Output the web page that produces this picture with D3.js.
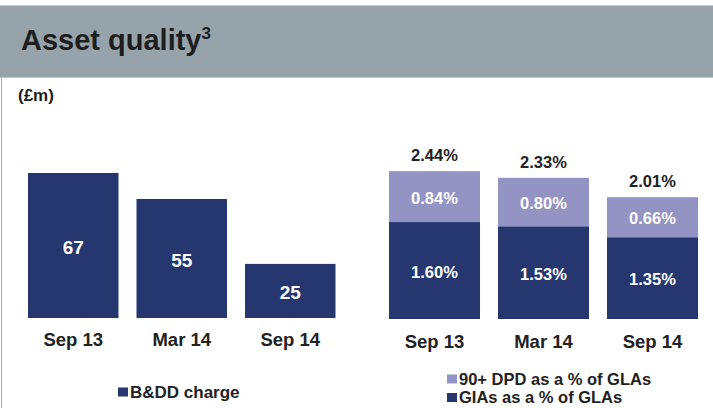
<!DOCTYPE html>
<html>
<head>
<meta charset="utf-8">
<script src="https://cdn.jsdelivr.net/npm/d3@7"></script>
<style>
  body { margin: 0; background: #fff; }
  svg { display: block; font-family: "Liberation Sans", Arial, sans-serif; }
</style>
</head>
<body>
<div id="chart"></div>
<script>
// data
var periods = ["Sep 13", "Mar 14", "Sep 14"];
var bddCharge = [67, 55, 25];
var giaPct = [1.60, 1.53, 1.35];
var dpdPct = [0.84, 0.80, 0.66];
var totalPct = [2.44, 2.33, 2.01];

var W = 713, H = 408;
var navy = "#26376f", lilac = "#9393c4";

var svg = d3.select("#chart").append("svg")
    .attr("width", W)
    .attr("height", H);

// header band
svg.append("rect")
    .attr("x", 0).attr("y", 5)
    .attr("width", W).attr("height", 72)
    .attr("fill", "#97a3aa");
svg.append("line")
    .attr("x1", 0).attr("x2", W).attr("y1", 5.5).attr("y2", 5.5)
    .attr("stroke", "#c8cdd0");
svg.append("line")
    .attr("x1", 0).attr("x2", W).attr("y1", 77.5).attr("y2", 77.5)
    .attr("stroke", "#c8cdd0");
svg.append("line")
    .attr("x1", 1.5).attr("x2", 1.5).attr("y1", 77).attr("y2", H)
    .attr("stroke", "#a8a8a8");

var title = svg.append("text")
    .attr("x", 21).attr("y", 50)
    .attr("font-size", 29)
    .attr("font-weight", "bold")
    .attr("fill", "#1e1e1e");
title.append("tspan").text("Asset quality");
title.append("tspan").attr("font-size", 17).attr("dy", -11).text("3");

svg.append("text")
    .attr("x", 18).attr("y", 101)
    .attr("font-size", 17)
    .attr("font-weight", "bold")
    .attr("fill", "#1e1e1e")
    .text("(£m)");

// left chart: B&DD charge
var xL = d3.scaleBand().domain(periods).range([10, 353.5]).padding(0.166);
var yL = d3.scaleLinear().domain([0, 70]).range([318, 318 - 70 * 2.164]);

var gL = svg.append("g");
gL.selectAll("rect")
    .data(bddCharge)
    .enter()
    .append("rect")
    .attr("x", function(d, i) { return xL(periods[i]); })
    .attr("y", function(d) { return yL(d); })
    .attr("width", xL.bandwidth())
    .attr("height", function(d) { return yL(0) - yL(d); })
    .attr("fill", navy);

gL.selectAll(".val")
    .data(bddCharge)
    .enter()
    .append("text")
    .attr("x", function(d, i) { return xL(periods[i]) + xL.bandwidth() / 2; })
    .attr("y", function(d) { return (yL(d) + yL(0)) / 2 + 1.5; })
    .attr("dy", ".35em")
    .attr("text-anchor", "middle")
    .attr("font-size", 19)
    .attr("font-weight", "bold")
    .attr("fill", "#fff")
    .text(function(d) { return d; });

gL.selectAll(".cat")
    .data(periods)
    .enter()
    .append("text")
    .attr("x", function(d) { return xL(d) + xL.bandwidth() / 2; })
    .attr("y", 340)
    .attr("dy", ".35em")
    .attr("text-anchor", "middle")
    .attr("font-size", 18.5)
    .attr("font-weight", "bold")
    .attr("fill", "#222")
    .text(function(d) { return d; });

// right chart: stacked percentages
var xR = d3.scaleBand().domain(periods).range([371, 716]).padding(0.165);
var yR = d3.scaleLinear().domain([0, 2.5]).range([319, 319 - 2.5 * 60.6]);

var rows = periods.map(function(p, i) {
    return { period: p, gia: giaPct[i], dpd: dpdPct[i] };
});
var stack = d3.stack().keys(["gia", "dpd"])(rows);
var fills = { gia: navy, dpd: lilac };

var gR = svg.append("g");
stack.forEach(function(layer) {
    gR.selectAll(".seg-" + layer.key)
        .data(layer)
        .enter()
        .append("rect")
        .attr("x", function(d) { return xR(d.data.period); })
        .attr("y", function(d) { return yR(d[1]); })
        .attr("width", xR.bandwidth())
        .attr("height", function(d) { return yR(d[0]) - yR(d[1]); })
        .attr("fill", fills[layer.key]);

    gR.selectAll(".lab-" + layer.key)
        .data(layer)
        .enter()
        .append("text")
        .attr("x", function(d) { return xR(d.data.period) + xR.bandwidth() / 2; })
        .attr("y", function(d) { return (yR(d[0]) + yR(d[1])) / 2 + 1.5; })
        .attr("dy", ".35em")
        .attr("text-anchor", "middle")
        .attr("font-size", 16.5)
        .attr("font-weight", "bold")
        .attr("fill", "#fff")
        .text(function(d) { return d.data[layer.key].toFixed(2) + "%"; });
});

gR.selectAll(".tot")
    .data(totalPct)
    .enter()
    .append("text")
    .attr("x", function(d, i) { return xR(periods[i]) + xR.bandwidth() / 2; })
    .attr("y", function(d) { return yR(d) - 16; })
    .attr("dy", ".35em")
    .attr("text-anchor", "middle")
    .attr("font-size", 16.5)
    .attr("font-weight", "bold")
    .attr("fill", "#222")
    .text(function(d) { return d.toFixed(2) + "%"; });

gR.selectAll(".cat")
    .data(periods)
    .enter()
    .append("text")
    .attr("x", function(d) { return xR(d) + xR.bandwidth() / 2; })
    .attr("y", 342)
    .attr("dy", ".35em")
    .attr("text-anchor", "middle")
    .attr("font-size", 18.5)
    .attr("font-weight", "bold")
    .attr("fill", "#222")
    .text(function(d) { return d; });

// legends
function legendItem(x, y, color, label, size) {
    svg.append("rect")
        .attr("x", x).attr("y", y - 4.5)
        .attr("width", 10).attr("height", 9)
        .attr("fill", color);
    svg.append("text")
        .attr("x", x + 12).attr("y", y)
        .attr("dy", ".35em")
        .attr("font-size", size)
        .attr("font-weight", "bold")
        .attr("fill", "#222")
        .text(label);
}
legendItem(118, 392, navy, "B&DD charge", 17);
legendItem(447, 379, lilac, "90+ DPD as a % of GLAs", 16.5);
legendItem(447, 397.5, navy, "GIAs as a % of GLAs", 16.5);
</script>
</body>
</html>
